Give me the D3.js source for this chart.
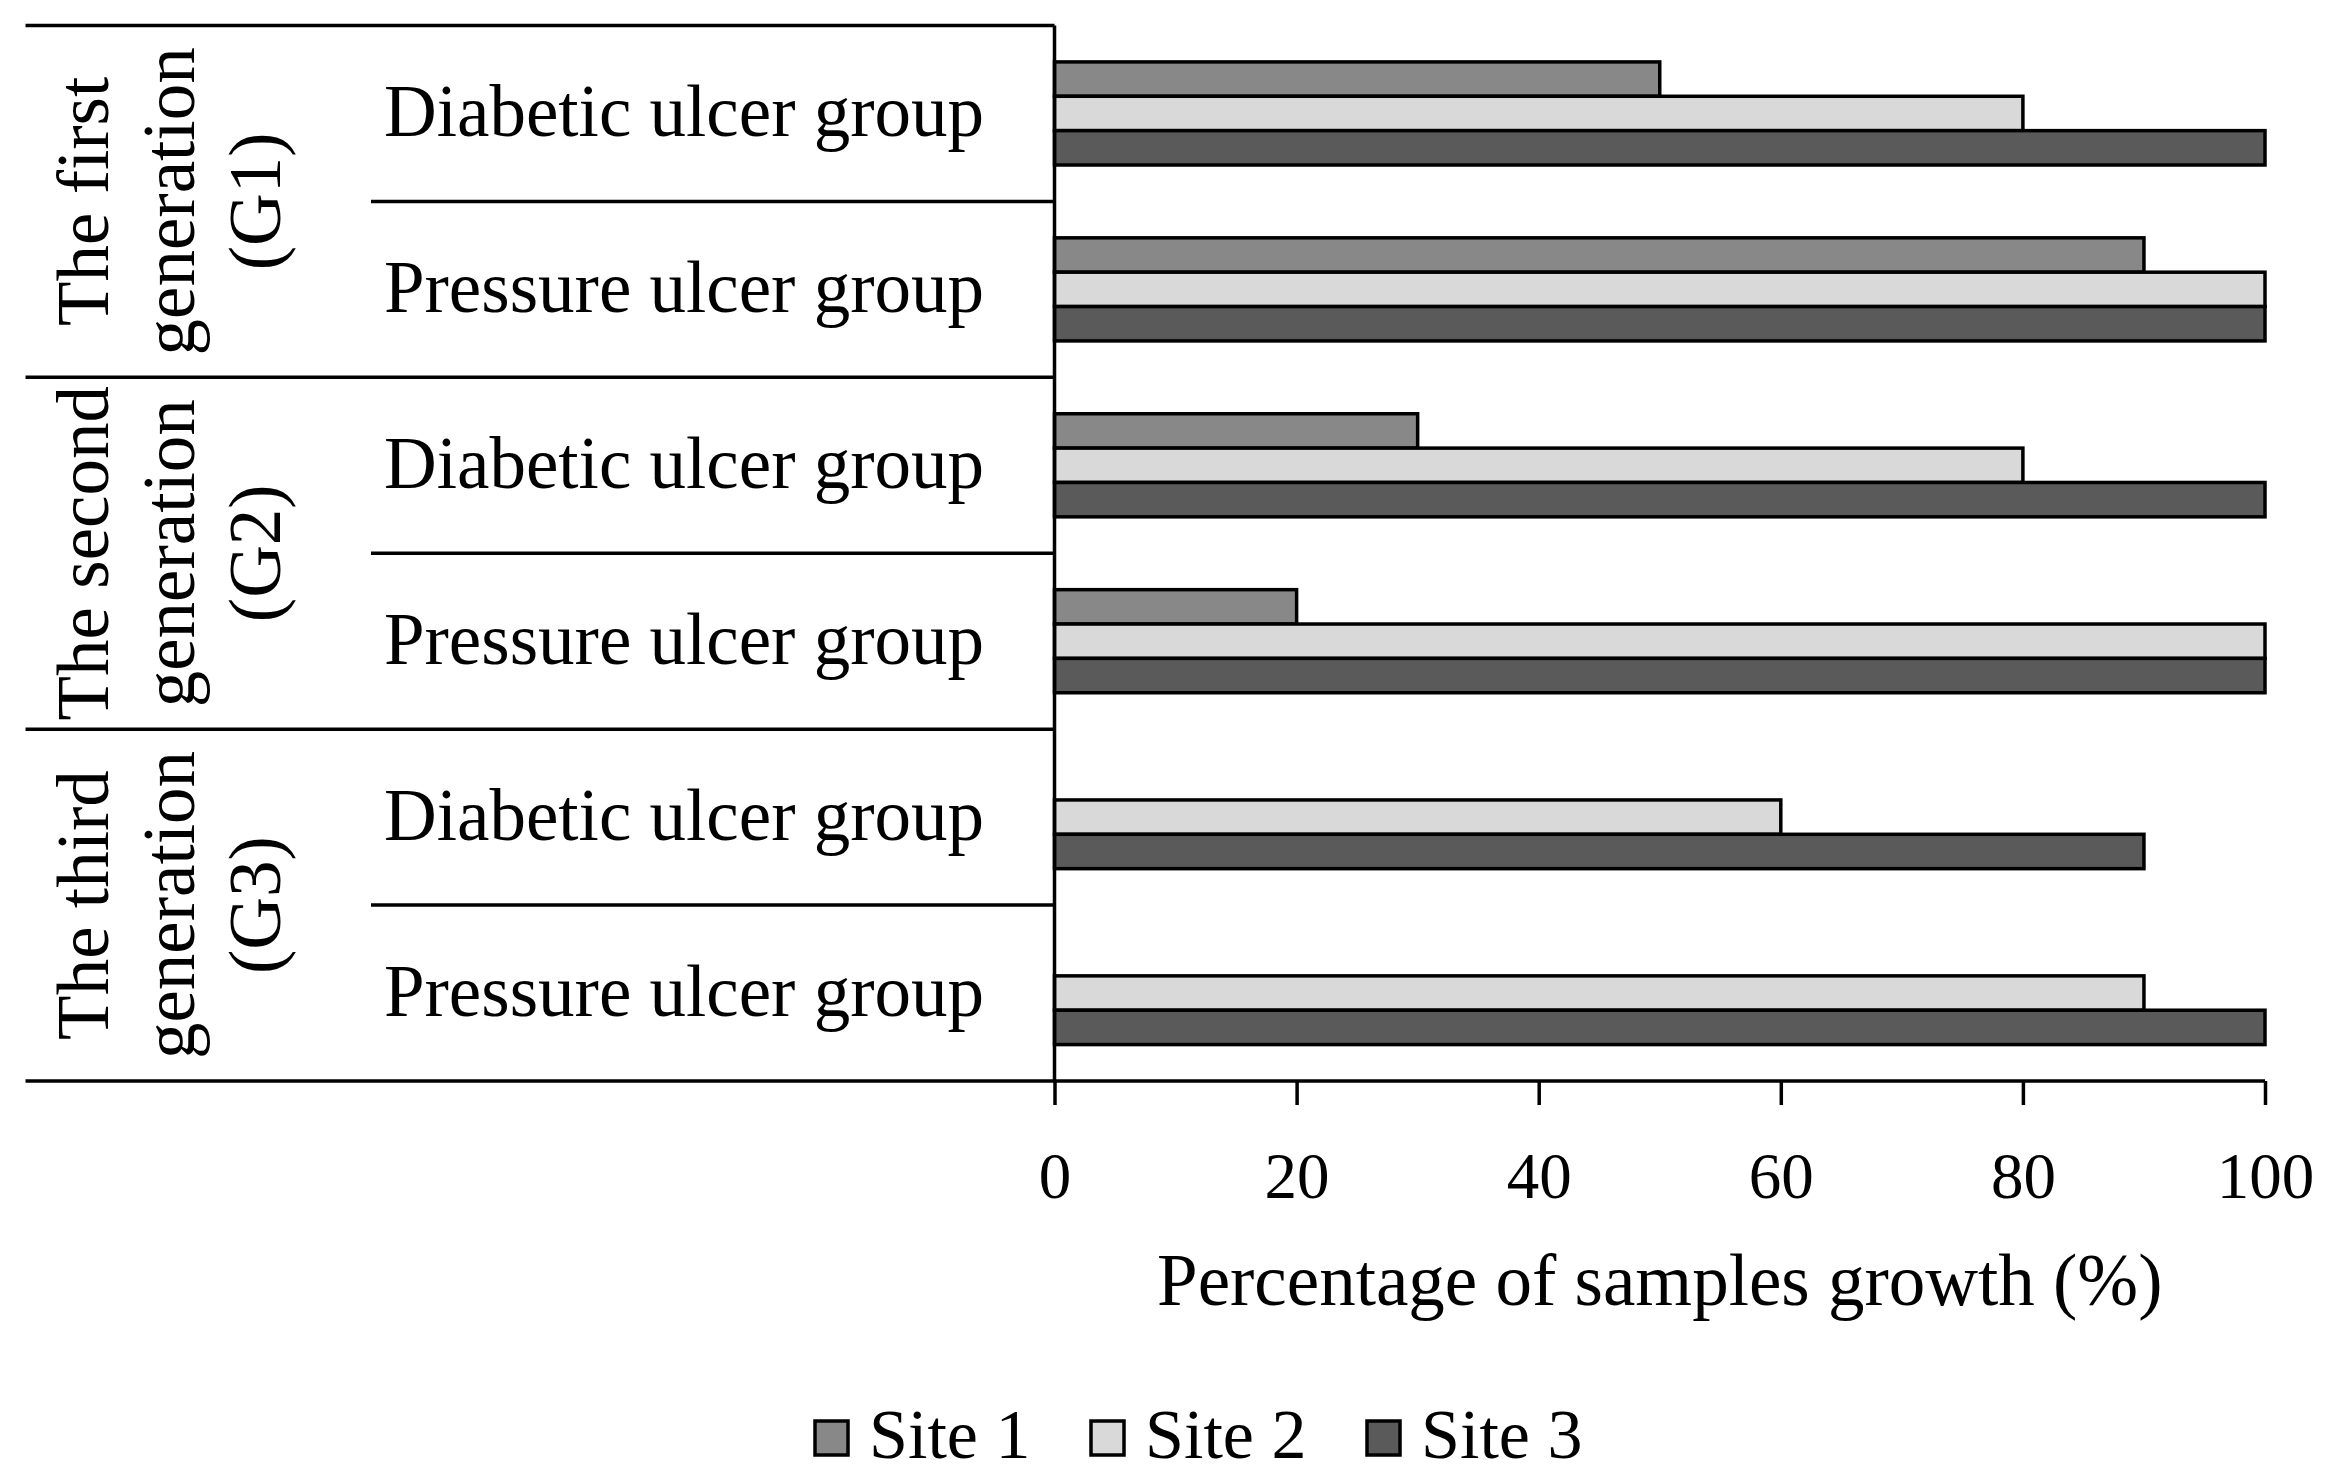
<!DOCTYPE html>
<html>
<head>
<meta charset="utf-8">
<script src="https://cdn.jsdelivr.net/npm/d3@7"></script>
<style>
  html, body { margin: 0; padding: 0; background: #fff; }
  svg { display: block; }
  text { font-family: "Liberation Serif", "DejaVu Serif", serif; fill: #000; }
</style>
</head>
<body>
<div id="chart"></div>
<script>
// data -----------------------------------------------------------------------
const generations = [
  ["The first", "generation", "(G1)"],
  ["The second", "generation", "(G2)"],
  ["The third", "generation", "(G3)"]
];
const groups = ["Diabetic ulcer group", "Pressure ulcer group"];
const sites = ["Site 1", "Site 2", "Site 3"];
const site1 = [50, 90, 30, 20, 0, 0];
const site2 = [80, 100, 80, 100, 60, 90];
const site3 = [100, 100, 100, 100, 90, 100];
const xTicks = [0, 20, 40, 60, 80, 100];
const xTitle = "Percentage of samples growth (%)";

// layout ---------------------------------------------------------------------
const width = 2342, height = 1484;
const tableLeft = 25.5, subLeft = 371, tableTop = 25.5, tableBottom = 1081;
const colors = { "Site 1": "#888888", "Site 2": "#d9d9d9", "Site 3": "#5a5a5a" };
const fontSize = 73;

const rows = [];
generations.forEach((g, gi) => groups.forEach((c, ci) => rows.push({ key: gi + "-" + ci, gi, ci, label: c })));
const values = { "Site 1": site1, "Site 2": site2, "Site 3": site3 };

const svg = d3.select("#chart").append("svg")
  .attr("width", width)
  .attr("height", height);

// scales ---------------------------------------------------------------------
const x = d3.scaleLinear().domain([0, 100]).range([1054.5, 2265]);
const y = d3.scaleBand().domain(rows.map(d => d.key)).range([tableTop, tableBottom]);
const ySite = d3.scaleBand().domain(sites).range([0, y.bandwidth()]).paddingOuter(1.06);

// bars -----------------------------------------------------------------------
const barData = [];
rows.forEach((r, i) => sites.forEach(s => barData.push({ row: r.key, site: s, value: values[s][i] })));

svg.append("g")
  .selectAll("rect")
  .data(barData.filter(d => d.value > 0))
  .enter()
  .append("rect")
  .attr("x", x(0))
  .attr("y", d => y(d.row) + ySite(d.site))
  .attr("width", d => x(d.value) - x(0))
  .attr("height", ySite.bandwidth())
  .attr("fill", d => colors[d.site])
  .attr("stroke", "#000")
  .attr("stroke-width", 3.5);

// table lines ----------------------------------------------------------------
const lines = svg.append("g").attr("stroke", "#000").attr("stroke-width", 3.5);
lines.append("line").attr("x1", tableLeft).attr("x2", x(0)).attr("y1", tableTop).attr("y2", tableTop);
lines.append("line").attr("x1", x(0)).attr("x2", x(0)).attr("y1", tableTop).attr("y2", tableBottom);
generations.forEach((g, gi) => {
  const yEnd = y(gi + "-1") + y.bandwidth();
  lines.append("line").attr("x1", subLeft).attr("x2", x(0)).attr("y1", y(gi + "-0") + y.bandwidth()).attr("y2", y(gi + "-0") + y.bandwidth());
  if (gi < generations.length - 1) {
    lines.append("line").attr("x1", tableLeft).attr("x2", x(0)).attr("y1", yEnd).attr("y2", yEnd);
  }
});
lines.append("line").attr("x1", tableLeft).attr("x2", x(100)).attr("y1", tableBottom).attr("y2", tableBottom);

// category labels ------------------------------------------------------------
svg.append("g")
  .selectAll("text")
  .data(rows)
  .enter()
  .append("text")
  .attr("x", 984)
  .attr("y", d => y(d.key) + y.bandwidth() / 2 + 23)
  .attr("text-anchor", "end")
  .attr("font-size", fontSize)
  .text(d => d.label);

// generation labels (rotated) ------------------------------------------------
const lineX = [108, 194, 280];
generations.forEach((g, gi) => {
  const yc = (y(gi + "-0") + y(gi + "-1") + y.bandwidth()) / 2;
  g.forEach((t, li) => {
    svg.append("text")
      .attr("transform", "translate(" + lineX[li] + "," + yc + ") rotate(-90)")
      .attr("text-anchor", "middle")
      .attr("font-size", fontSize)
      .text(t);
  });
});

// x axis ---------------------------------------------------------------------
const xAxis = d3.axisBottom(x).tickValues(xTicks).tickSize(24).tickSizeOuter(0);
const ax = svg.append("g")
  .attr("transform", "translate(0," + tableBottom + ")")
  .call(xAxis);
ax.select(".domain").remove();
ax.selectAll(".tick line").attr("stroke", "#000").attr("stroke-width", 3.5);
ax.selectAll(".tick text")
  .attr("y", 117)
  .attr("dy", 0)
  .attr("font-size", 65)
  .attr("font-family", "Liberation Serif")
  .attr("fill", "#000");

svg.append("text")
  .attr("x", (x(0) + x(100)) / 2)
  .attr("y", 1305)
  .attr("text-anchor", "middle")
  .attr("font-size", 73)
  .text(xTitle);

// legend ---------------------------------------------------------------------
const legend = svg.append("g")
  .selectAll("g")
  .data(sites)
  .enter()
  .append("g")
  .attr("transform", (d, i) => "translate(" + (815 + i * 276) + ",1421)");
legend.append("rect")
  .attr("width", 33)
  .attr("height", 34)
  .attr("fill", d => colors[d])
  .attr("stroke", "#000")
  .attr("stroke-width", 3.5);
legend.append("text")
  .attr("x", 54)
  .attr("y", 37)
  .attr("font-size", 70)
  .text(d => d);
</script>
</body>
</html>
